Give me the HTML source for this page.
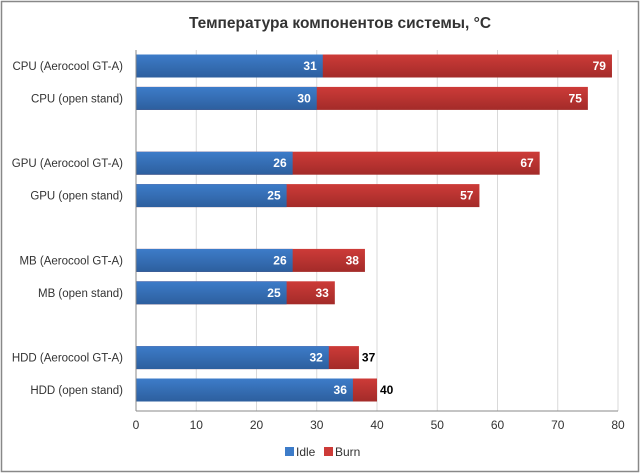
<!DOCTYPE html>
<html><head><meta charset="utf-8"><style>
body{margin:0;background:#fff}
svg{display:block;font-family:"Liberation Sans","DejaVu Sans",sans-serif}
</style></head><body>
<svg id="c" width="641" height="474" xmlns="http://www.w3.org/2000/svg">
<defs>
<linearGradient id="gb" x1="0" y1="0" x2="0" y2="1"><stop offset="0" stop-color="#3d7cc9"/><stop offset="1" stop-color="#2d5f9e"/></linearGradient>
<linearGradient id="gr" x1="0" y1="0" x2="0" y2="1"><stop offset="0" stop-color="#cd3b38"/><stop offset="1" stop-color="#a32b29"/></linearGradient>
</defs>
<rect x="1.5" y="1.5" width="637" height="470" fill="#fff" stroke="#888" stroke-width="1.5"/>
<text x="340" y="28" text-anchor="middle" font-size="15.5" font-weight="bold" fill="#333">Температура компонентов системы, °C</text>
<g id="grid"></g><g id="bars"></g><g id="axes"></g>
<g>
<rect x="285" y="447" width="9" height="9" fill="#3d7cc9"/>
<text x="296" y="456" font-size="12" fill="#333">Idle</text>
<rect x="324" y="447" width="9" height="9" fill="#cd3b38"/>
<text x="335" y="456" font-size="12" fill="#333">Burn</text>
</g>
</svg>
<script>
const categories=["CPU (Aerocool GT-A)","CPU (open stand)","","GPU (Aerocool GT-A)","GPU (open stand)","","MB (Aerocool GT-A)","MB (open stand)","","HDD (Aerocool GT-A)","HDD (open stand)"];
const idle=[31,30,null,26,25,null,26,25,null,32,36];
const burn=[79,75,null,67,57,null,38,33,null,37,40];
const ticks=[0,10,20,30,40,50,60,70,80];
const NS="http://www.w3.org/2000/svg";
const x0=136,x1=618,xmax=80,yTop=50,yBot=411,slotTop=66,pitch=32.4,bh=23;
const xs=v=>x0+v/xmax*(x1-x0);
const ys=i=>slotTop+i*pitch;
function mk(tag,attrs,parent){const e=document.createElementNS(NS,tag);for(const k in attrs)e.setAttribute(k,attrs[k]);document.getElementById(parent).appendChild(e);return e;}
ticks.forEach(t=>{
 if(t>0){const g=mk('line',{x1:xs(t),x2:xs(t),y1:yTop,y2:yBot,stroke:'#d9d9d9'},'grid');
 
 }
 const l=mk('text',{x:xs(t),y:429,'text-anchor':'middle','font-size':12,fill:'#333'},'axes');l.textContent=t;
 
 
});
const ax=mk('line',{x1:x0,x2:x0,y1:yTop,y2:yBot,stroke:'#888'},'axes');


const axx=mk('line',{x1:x0,x2:x1,y1:yBot,y2:yBot,stroke:'#888'},'axes');


categories.forEach((c,i)=>{
 if(!c)return;
 const cy=ys(i),y=cy-bh/2;
 const lab=mk('text',{x:123,y:cy+4,'text-anchor':'end','font-size':11.5,fill:'#333'},'axes');lab.textContent=c;
 
 
 const rb=mk('rect',{x:x0,y:y,width:xs(burn[i])-x0,height:bh,fill:'url(#gr)'},'bars');
 
 
 const ri=mk('rect',{x:x0,y:y,width:xs(idle[i])-x0,height:bh,fill:'url(#gb)'},'bars');
 
 
 const ti=mk('text',{x:xs(idle[i])-6,y:cy+4,'text-anchor':'end','font-size':12,'font-weight':'bold',fill:'#fff'},'bars');ti.textContent=idle[i];
 
 
 const narrow=burn[i]-idle[i]<6;
 const tb=mk('text',{x:narrow?xs(burn[i])+3:xs(burn[i])-6,y:cy+4,'text-anchor':narrow?'start':'end','font-size':12,'font-weight':'bold',fill:narrow?'#000':'#fff'},'bars');tb.textContent=burn[i];
 
 
});
</script>
</body></html>
